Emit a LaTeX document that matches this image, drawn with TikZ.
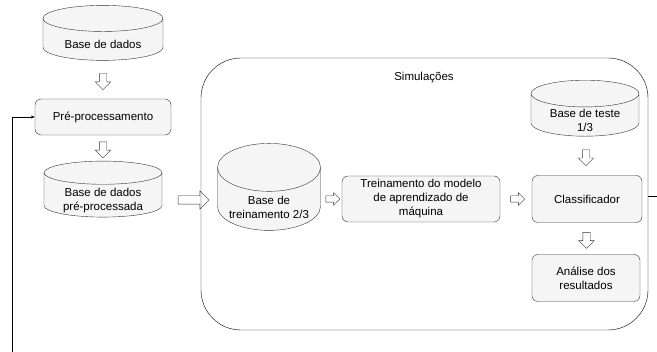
\documentclass[tikz,border=0pt]{standalone}
\usepackage{fontspec}
\setmainfont{Liberation Sans}
\usetikzlibrary{shapes.geometric, shapes.arrows, positioning, calc, arrows.meta}
\tikzset{
base/.style={cylinder, shape border rotate=90, draw=black!80, fill=gray!8, inner sep=0pt}, % bases de dados
texto/.style={align=center, inner sep=0pt}, % texto dentro das bases
etapa/.style={rectangle, rounded corners=6pt, draw=black!80, fill=gray!8, align=center, inner sep=0pt}, % etapas do processo
seta/.style={single arrow, draw=black!80, fill=white, inner xsep=0pt, inner ysep=3.5pt, minimum height=16pt, single arrow head extend=4pt}, % setas largas
setinha/.style={seta, inner ysep=3pt, minimum height=14pt, single arrow head extend=3pt},
}

\begin{document}
\begin{tikzpicture}[x=1pt, y=-1pt, font=\fontsize{11.5}{14}\selectfont]
\useasboundingbox (0,0) rectangle (657,352);
% coluna da esquerda
\node[base, aspect=0.34, minimum width=120pt, minimum height=55pt] (db) at (103,39.5) {\phantom{Base de dados}};
\node[texto] (dbtxt) at ($(db.center)+(0,5)$) {Base de dados};
\node[etapa, minimum width=136pt, minimum height=36pt] (pre) at (103,117) {Pré-processamento};
\node[base, aspect=0.29, minimum width=118pt, minimum height=56pt] (dbpre) at (103,195) {\phantom{pré-processada}};
\node[texto] (dbpretxt) at ($(dbpre.center)+(0,6)$) {Base de dados\\pré-processada};
\node[seta, rotate=-90] (s1) at ($(db.south)!0.5!(pre.north)$) {};
\node[seta, rotate=-90] (s2) at ($(pre.south)!0.5!(dbpre.north)$) {};
\node[seta, inner ysep=4pt, minimum height=31pt, single arrow head extend=5pt] (s3) at (191.5,200) {};
% simulações
\node[draw, rounded corners=40pt, minimum width=447pt, minimum height=272pt] (sim) at (424.5,194) {};
\node (simtit) at (424,78) {Simulações};
\node[base, aspect=0.6, minimum width=103pt, minimum height=87pt] (trein) at (269,199) {\phantom{treinamento 2/3}};
\node[texto] (treintxt) at ($(trein.center)+(0,8)$) {Base de\\treinamento 2/3};
\node[etapa, minimum width=158pt, minimum height=46pt] (modelo) at (421,199) {Treinamento do modelo\\de aprendizado de\\máquina};
\node[base, aspect=0.38, minimum width=108pt, minimum height=56pt] (teste) at (585,115) {\phantom{Base de teste}};
\node[texto] (testetxt) at ($(teste.center)+(0,5)$) {Base de teste\\1/3};
\node[etapa, minimum width=110pt, minimum height=47pt] (clas) at (587,199) {Classificador};
\node[etapa, minimum width=108pt, minimum height=47pt] (anal) at (586,278) {Análise dos\\resultados};
\node[setinha] (s4) at ($(trein.east)!0.5!(modelo.west)$) {};
\node[setinha] (s5) at ($(modelo.east)!0.5!(clas.west)$) {};
\node[seta, rotate=-90] (s6) at ($(teste.south)!0.5!(clas.north)$) {};
\node[seta, rotate=-90] (s7) at ($(clas.south)!0.5!(anal.north)$) {};
% retorno
\coordinate (volta) at (12,360);
\coordinate (saida) at (665,196);
\draw[-{Stealth[length=4pt,width=3pt]}] (volta) |- (pre.west);
\draw (sim.east |- saida) -- (saida);
\end{tikzpicture}
\end{document}
